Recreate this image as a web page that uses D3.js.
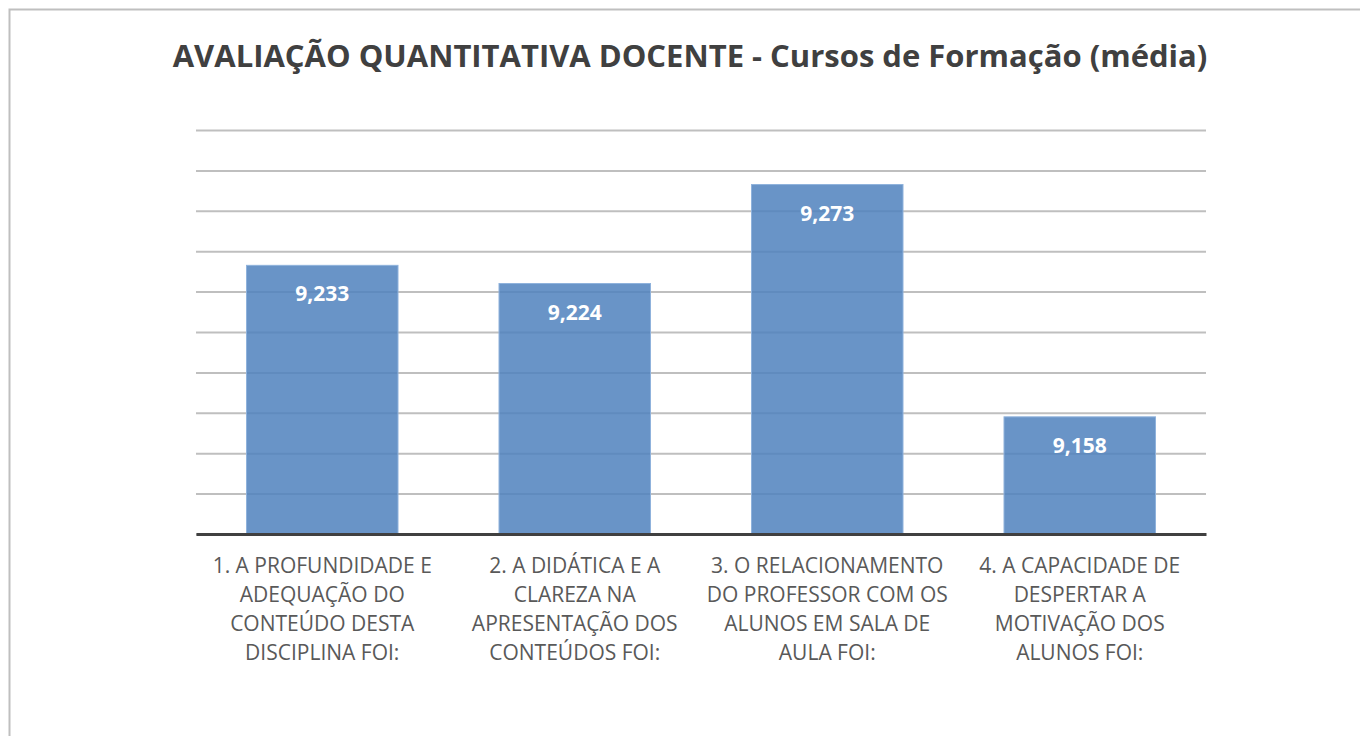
<!DOCTYPE html>
<html>
<head>
<meta charset="utf-8">
<script src="https://cdn.jsdelivr.net/npm/d3@7"></script>
<style>
  body { margin: 0; background: #fff; }
  svg { display: block; }
</style>
</head>
<body>
<div id="chart"></div>
<script>
const titleText = 'AVALIAÇÃO QUANTITATIVA DOCENTE - Cursos de Formação (média)';
const categories = ['q1', 'q2', 'q3', 'q4'];
const categoryLabels = [
  ['1. A PROFUNDIDADE E', 'ADEQUAÇÃO DO', 'CONTEÚDO DESTA', 'DISCIPLINA FOI:'],
  ['2. A DIDÁTICA E A', 'CLAREZA NA', 'APRESENTAÇÃO DOS', 'CONTEÚDOS FOI:'],
  ['3. O RELACIONAMENTO', 'DO PROFESSOR COM OS', 'ALUNOS EM SALA DE', 'AULA FOI:'],
  ['4. A CAPACIDADE DE', 'DESPERTAR A', 'MOTIVAÇÃO DOS', 'ALUNOS FOI:']
];
const values = [9.233, 9.224, 9.273, 9.158];
const gridTicks = [9.10, 9.12, 9.14, 9.16, 9.18, 9.20, 9.22, 9.24, 9.26, 9.28, 9.30];

const width = 1360, height = 736;
const margin = { top: 130, right: 154, bottom: 202, left: 196 };
const innerW = width - margin.left - margin.right;
const innerH = height - margin.top - margin.bottom;

const svg = d3.select('#chart').append('svg')
  .attr('width', width)
  .attr('height', height);

// chart frame
svg.append('rect')
  .attr('x', 9.5).attr('y', 9.5)
  .attr('width', width).attr('height', height)
  .attr('fill', 'none')
  .attr('stroke', '#bfbfbf')
  .attr('stroke-width', 2);

svg.append('text')
  .attr('x', 690)
  .attr('y', 67)
  .attr('text-anchor', 'middle')
  .attr('font-family', 'Open Sans, sans-serif')
  .attr('font-weight', 'bold')
  .attr('font-size', 31)
  .attr('fill', '#404040')
  .text(titleText);

const g = svg.append('g')
  .attr('transform', `translate(${margin.left}, ${margin.top})`);

const x = d3.scaleBand()
  .domain(categories)
  .range([0, innerW])
  .paddingInner(0.4)
  .paddingOuter(0.2);

const y = d3.scaleLinear()
  .domain([9.10, 9.30])
  .range([innerH, 0]);

// gridlines
g.append('g')
  .call(d3.axisLeft(y).tickValues(gridTicks).tickSize(-innerW).tickFormat(''))
  .call(ax => ax.select('.domain').remove())
  .call(ax => ax.selectAll('.tick line')
    .attr('stroke', '#bfbfbf')
    .attr('stroke-width', 2));

// bars
g.selectAll('.bar')
  .data(values)
  .enter()
  .append('rect')
  .attr('class', 'bar')
  .attr('x', (d, i) => x(categories[i]))
  .attr('y', d => y(d))
  .attr('width', x.bandwidth())
  .attr('height', d => innerH - y(d))
  .attr('fill', '#4f81bd')
  .attr('fill-opacity', 0.85)
  .attr('stroke', '#8fb2dc')
  .attr('stroke-width', 1);

// value labels
g.selectAll('.val')
  .data(values)
  .enter()
  .append('text')
  .attr('class', 'val')
  .attr('x', (d, i) => x(categories[i]) + x.bandwidth() / 2)
  .attr('y', d => y(d) + 36)
  .attr('text-anchor', 'middle')
  .attr('font-family', 'Open Sans, sans-serif')
  .attr('font-weight', 'bold')
  .attr('font-size', 21)
  .attr('fill', '#ffffff')
  .text(d => d3.format('.3f')(d).replace('.', ','));

// baseline axis
const xAxis = g.append('g')
  .attr('transform', `translate(0, ${innerH})`)
  .call(d3.axisBottom(x).tickSize(0).tickFormat(''));
xAxis.select('.domain')
  .attr('stroke', '#404040')
  .attr('stroke-width', 3);

// category labels, pre-wrapped
const lbl = g.selectAll('.cat')
  .data(categoryLabels)
  .enter()
  .append('text')
  .attr('class', 'cat')
  .attr('x', (d, i) => x(categories[i]) + x.bandwidth() / 2)
  .attr('y', innerH + 39)
  .attr('text-anchor', 'middle')
  .attr('font-family', 'Open Sans, sans-serif')
  .attr('font-size', 21)
  .attr('fill', '#595959');

lbl.selectAll('tspan')
  .data(d => d)
  .enter()
  .append('tspan')
  .attr('x', function () { return d3.select(this.parentNode).attr('x'); })
  .attr('dy', (d, i) => i === 0 ? 0 : 29)
  .text(d => d);
</script>
</body>
</html>
